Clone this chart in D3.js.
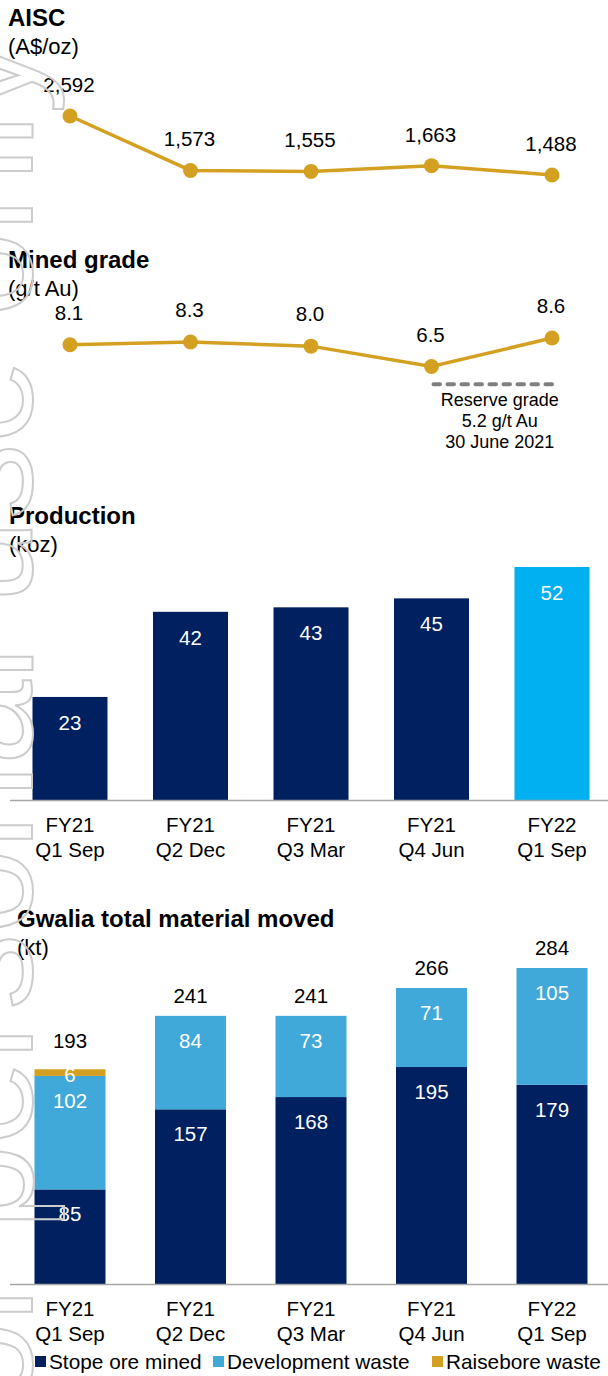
<!DOCTYPE html>
<html>
<head>
<meta charset="utf-8">
<script src="https://cdn.jsdelivr.net/npm/d3@7"></script>
<style>
  body { margin: 0; background: #fff; }
  svg { display: block; font-family: "Liberation Sans", Arial, sans-serif; }
</style>
</head>
<body>
<svg width="608" height="1376"></svg>
<script>
// quarter labels, two lines each
var quarterTop = ["FY21", "FY21", "FY21", "FY21", "FY22"];
var quarterBottom = ["Q1 Sep", "Q2 Dec", "Q3 Mar", "Q4 Jun", "Q1 Sep"];

var aiscValues = [2592, 1573, 1555, 1663, 1488];
var gradeValues = [8.1, 8.3, 8.0, 6.5, 8.6];
var reserveGrade = 5.2;
var reserveText = ["Reserve grade", "5.2 g/t Au", "30 June 2021"];
var productionValues = [23, 42, 43, 45, 52];

var stopeOre = [85, 157, 168, 195, 179];
var devWaste = [102, 84, 73, 71, 105];
var raiseboreWaste = [6, 0, 0, 0, 0];
var materialTotals = [193, 241, 241, 266, 284];
var seriesNames = ["Stope ore mined", "Development waste", "Raisebore waste"];

var gold = "#D4A021",
	navy = "#002060",
	lightBlue = "#41A8DA",
	brightBlue = "#00B0F0";

var svg = d3.select("svg");

var x = d3.scalePoint()
		.domain(d3.range(5))
		.range([70, 552]);

function title(tx, y, bold, unit) {
	svg.append("text")
		.attr("x", tx).attr("y", y)
		.attr("font-size", 24).attr("font-weight", "bold")
		.text(bold);
	svg.append("text")
		.attr("x", tx).attr("y", y + 28)
		.attr("font-size", 22)
		.text(unit);
}

function lineChart(values, y, fmt, labelGap) {
	var line = d3.line()
		.x(function(d, i) { return x(i); })
		.y(function(d) { return y(d); });

	svg.append("path")
		.datum(values)
		.attr("fill", "none")
		.attr("stroke", gold)
		.attr("stroke-width", 3.5)
		.attr("d", line);

	svg.append("g").selectAll("circle")
		.data(values)
		.enter().append("circle")
			.attr("cx", function(d, i) { return x(i); })
			.attr("cy", function(d) { return y(d); })
			.attr("r", 7.5)
			.attr("fill", gold);

	svg.append("g").selectAll("text")
		.data(values)
		.enter().append("text")
			.attr("x", function(d, i) { return x(i) - 1; })
			.attr("y", function(d) { return y(d) - labelGap; })
			.attr("text-anchor", "middle")
			.attr("font-size", 20.5)
			.text(function(d) { return fmt(d); });
}

function categoryAxis(baseY) {
	svg.append("line")
		.attr("x1", 10).attr("x2", 608)
		.attr("y1", baseY + 0.5).attr("y2", baseY + 0.5)
		.attr("stroke", "#a6a6a6")
		.attr("stroke-width", 1.3);

	var g = svg.append("g").selectAll("text")
		.data(d3.range(5))
		.enter().append("text")
			.attr("text-anchor", "middle")
			.attr("font-size", 20.5);
	g.append("tspan")
		.attr("x", function(i) { return x(i); })
		.attr("y", baseY + 32)
		.text(function(i) { return quarterTop[i]; });
	g.append("tspan")
		.attr("x", function(i) { return x(i); })
		.attr("y", baseY + 57)
		.text(function(i) { return quarterBottom[i]; });
}

// ---- AISC
title(8, 26, "AISC", "(A$/oz)");
var yAisc = d3.scaleLinear()
		.domain([1488, 2592])
		.range([175, 116]);
lineChart(aiscValues, yAisc, d3.format(","), 24);

// ---- Mined grade
title(8, 268, "Mined grade", "(g/t Au)");
var yGrade = d3.scaleLinear()
		.domain([6.5, 8.6])
		.range([366.5, 338]);

// reserve grade reference line
svg.append("line")
	.attr("x1", x(3) + 2).attr("x2", x(4))
	.attr("y1", yGrade(reserveGrade)).attr("y2", yGrade(reserveGrade))
	.attr("stroke", "#808080")
	.attr("stroke-width", 4)
	.attr("stroke-linecap", "round")
	.attr("stroke-dasharray", "6.5,7.5");

svg.append("g").selectAll("text")
	.data(reserveText)
	.enter().append("text")
		.attr("x", (x(3) + x(4)) / 2 + 8)
		.attr("y", function(d, i) { return yGrade(reserveGrade) + 22 + i * 21; })
		.attr("text-anchor", "middle")
		.attr("font-size", 18)
		.text(function(d) { return d; });

lineChart(gradeValues, yGrade, d3.format(".1f"), 25);

// ---- Production
title(9, 524, "Production", "(koz)");
var yProd = d3.scaleLinear()
		.domain([0, 52])
		.range([800, 567]);
var prodWidth = 75;

svg.append("g").selectAll("rect")
	.data(productionValues)
	.enter().append("rect")
		.attr("x", function(d, i) { return x(i) - prodWidth / 2; })
		.attr("y", function(d) { return yProd(d); })
		.attr("width", prodWidth)
		.attr("height", function(d) { return yProd(0) - yProd(d); })
		.attr("fill", function(d, i) { return i == 4 ? brightBlue : navy; });

svg.append("g").selectAll("text")
	.data(productionValues)
	.enter().append("text")
		.attr("x", function(d, i) { return x(i); })
		.attr("y", function(d) { return yProd(d) + 33; })
		.attr("text-anchor", "middle")
		.attr("font-size", 20.5)
		.attr("fill", "#fff")
		.text(function(d) { return d; });

categoryAxis(800);

// ---- Gwalia total material moved
title(17, 927, "Gwalia total material moved", "(kt)");
var yMat = d3.scaleLinear()
		.domain([0, 284])
		.range([1284, 968]);
var matWidth = 71;

var stackData = d3.range(5).map(function(i) {
	return { stope: stopeOre[i], dev: devWaste[i], raise: raiseboreWaste[i] };
});
var stack = d3.stack().keys(["stope", "dev", "raise"]);
var series = stack(stackData);
var segColor = { stope: navy, dev: lightBlue, raise: gold };

var layer = svg.append("g").selectAll("g")
	.data(series)
	.enter().append("g")
		.attr("fill", function(s) { return segColor[s.key]; });

layer.selectAll("rect")
	.data(function(s) { return s; })
	.enter().append("rect")
		.attr("x", function(d, i) { return x(i) - matWidth / 2; })
		.attr("y", function(d) { return yMat(d[1]); })
		.attr("width", matWidth)
		.attr("height", function(d) { return yMat(d[0]) - yMat(d[1]); });

// segment labels
series.forEach(function(s) {
	svg.append("g").selectAll("text")
		.data(s.filter(function(d) { return d[1] - d[0] > 0; }))
		.enter().append("text")
			.attr("x", function(d) { return x(s.indexOf(d)); })
			.attr("y", function(d) { return yMat(d[1]) + (s.key == "raise" ? 13 : 32); })
			.attr("text-anchor", "middle")
			.attr("font-size", 20.5)
			.attr("fill", "#fff")
			.text(function(d) { return d[1] - d[0]; });
});

svg.append("g").selectAll("text")
	.data(materialTotals)
	.enter().append("text")
		.attr("x", function(d, i) { return x(i); })
		.attr("y", function(d, i) { return yMat(d) - (raiseboreWaste[i] > 0 ? 21 : 13); })
		.attr("text-anchor", "middle")
		.attr("font-size", 20.5)
		.text(function(d) { return d; });

categoryAxis(1284);

// legend
var legendX = [35, 213, 432];
var legendColors = [navy, lightBlue, gold];
var lg = svg.append("g").selectAll("g")
	.data(seriesNames)
	.enter().append("g")
		.attr("transform", function(d, i) { return "translate(" + legendX[i] + ",1369)"; });
lg.append("rect")
	.attr("y", -13).attr("width", 11).attr("height", 11)
	.attr("fill", function(d, i) { return legendColors[i]; });
lg.append("text")
	.attr("x", 14)
	.attr("font-size", 20.8)
	.text(function(d) { return d; });

// outlined watermark down the left edge
svg.append("text")
	.attr("transform", "translate(32,38) rotate(-90)")
	.attr("text-anchor", "end")
	.attr("font-size", 152)
	.attr("fill", "none")
	.attr("stroke", "#cccccc")
	.attr("stroke-width", 2)
	.text("For personal use only");
</script>
</body>
</html>
